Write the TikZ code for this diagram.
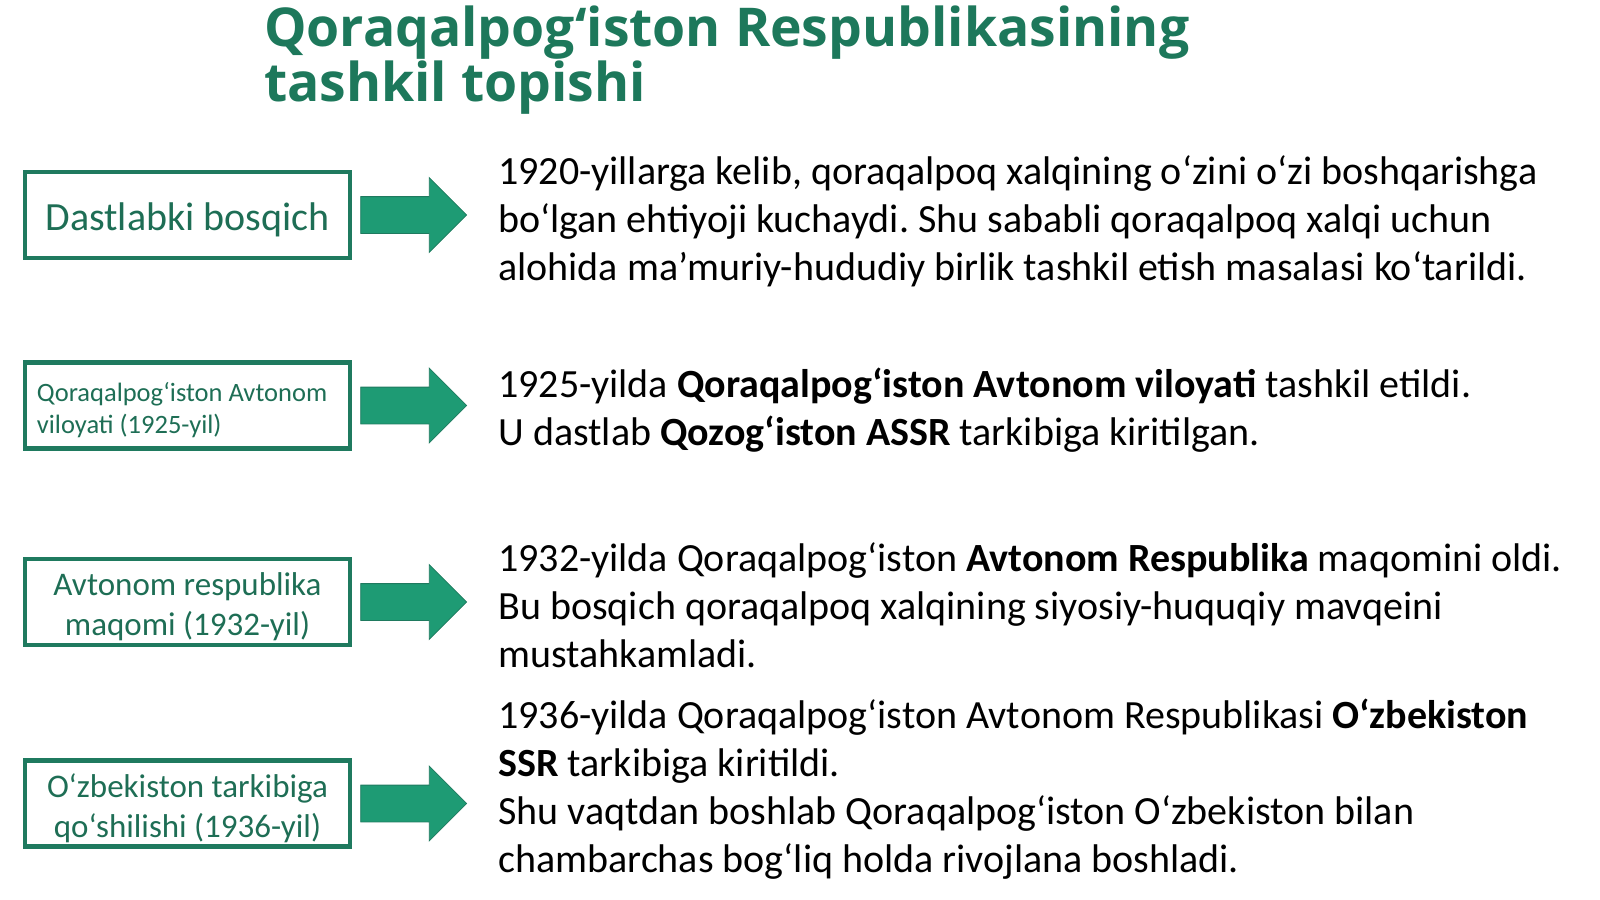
\documentclass[tikz,border=0pt]{standalone}
\usepackage{fontspec}
\setmainfont{Carlito}
\newfontfamily\titlefont{Open Sans}
\usetikzlibrary{shapes.arrows, positioning}
\frenchspacing
\definecolor{titlegreen}{HTML}{1D785B}
\definecolor{boxgreen}{HTML}{1F7A5F}
\definecolor{boxtext}{HTML}{1E6E55}
\definecolor{arrowgreen}{HTML}{1E9B74}
\tikzstyle{stage} = [rectangle, draw=boxgreen, line width=4.5pt, minimum width=325pt,
minimum height=86pt, inner sep=0pt]
\tikzstyle{stagetext} = [text=boxtext, align=center, inner sep=0pt]
\tikzstyle{fat} = [single arrow, draw=boxgreen, fill=arrowgreen, line width=0.8pt,
minimum height=106pt, text height=18pt, text depth=18pt, single arrow head extend=19pt, inner sep=0pt]
\tikzstyle{info} = [align=left, inner sep=0pt, font=\fontsize{40}{48}\selectfont]

\begin{document}
\begin{tikzpicture}[x=1pt, y=1pt, node distance=106pt]
  \useasboundingbox (0,0) rectangle (1600,-899);
  \node (title) [anchor=north west, align=left, inner sep=0pt, text=titlegreen,
    font=\titlefont\bfseries\fontsize{53.5}{51}\selectfont] at (264,-6)
    {Qoraqalpog‘iston Respublikasining\\tashkil topishi};

  \node (st1) [stage] at (187.5,-215) {};
  \node (st2) [stage, below=100pt of st1] {};
  \node (st3) [stage, below=of st2] {};
  \node (st4) [stage, below=111pt of st3] {};

  \node (lb1) [stagetext, font=\fontsize{40}{48}\selectfont] at ([yshift=-5pt]st1.center) {Dastlabki bosqich};
  \node (lb2) [stagetext, anchor=west, align=flush left, font=\fontsize{26.5}{32}\selectfont]
    at ([xshift=14pt, yshift=-5pt]st2.west) {Qoraqalpog‘iston Avtonom\\viloyati (1925-yil)};
  \node (lb3) [stagetext, font=\fontsize{33}{40}\selectfont] at ([yshift=-5pt]st3.center) {Avtonom respublika\\maqomi (1932-yil)};
  \node (lb4) [stagetext, font=\fontsize{33}{40}\selectfont] at ([yshift=-5pt]st4.center) {O‘zbekiston tarkibiga\\qo‘shilishi (1936-yil)};

  \node (ar1) [fat, right=8pt of st1] {};
  \node (ar2) [fat, right=8pt of st2] {};
  \node (ar3) [fat, right=8pt of st3] {};
  \node (ar4) [fat, right=8pt of st4] {};

  \node (tx1) [info, right=31pt of ar1, yshift=-6pt] {1920-yillarga kelib, qoraqalpoq xalqining o‘zini o‘zi boshqarishga\\
    bo‘lgan ehtiyoji kuchaydi. Shu sababli qoraqalpoq xalqi uchun\\
    alohida ma’muriy-hududiy birlik tashkil etish masalasi ko‘tarildi.};
  \node (tx2) [info, right=31pt of ar2, yshift=-5pt] {1925-yilda \textbf{Qoraqalpog‘iston Avtonom viloyati} tashkil etildi.\\
    U dastlab \textbf{Qozog‘iston ASSR} tarkibiga kiritilgan.};
  \node (tx3) [info, right=31pt of ar3, yshift=-3pt] {1932-yilda Qoraqalpog‘iston \textbf{Avtonom Respublika} maqomini oldi.\\
    Bu bosqich qoraqalpoq xalqining siyosiy-huquqiy mavqeini\\
    mustahkamladi.};
  \node (tx4) [info, right=31pt of ar4, yshift=14pt] {1936-yilda Qoraqalpog‘iston Avtonom Respublikasi \textbf{O‘zbekiston}\\
    \textbf{SSR} tarkibiga kiritildi.\\
    Shu vaqtdan boshlab Qoraqalpog‘iston O‘zbekiston bilan\\
    chambarchas bog‘liq holda rivojlana boshladi.};
\end{tikzpicture}
\end{document}
